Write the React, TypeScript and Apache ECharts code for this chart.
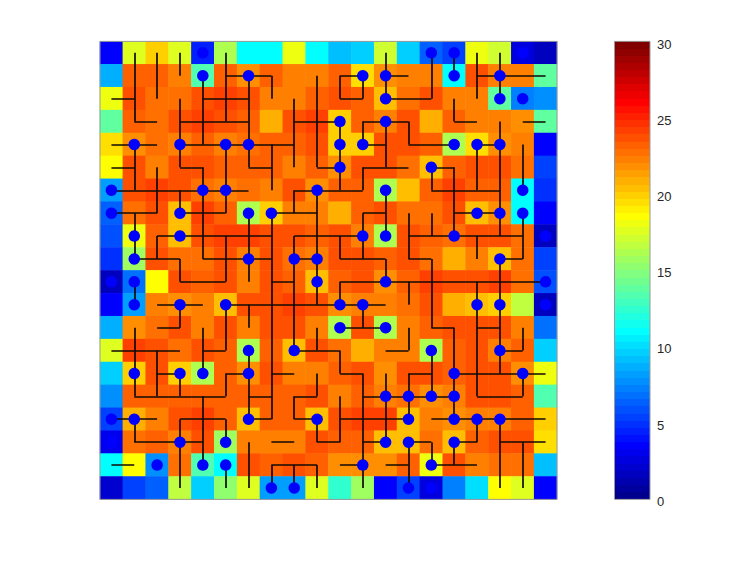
import React, { useEffect, useRef } from "react";
import * as echarts from "echarts";

const heatRows: number[][] = [
  [3.5,17.6,20,17.5,4.5,16.2,11,11,18,10.8,9,9.5,17,9.5,6.2,5.4,18,17.2,2.6,1.6],
  [8.6,23.2,23.2,22.3,13.3,23.2,21.8,23.2,22.3,22.3,23.2,19.5,21.8,22.3,22.3,11,23.6,22.3,22.3,13.8],
  [18,23.6,22.8,22.8,23.6,24.1,23.6,22.3,22.3,23.4,23.6,23.2,20.4,22.8,23.6,22.3,22.3,13.8,7.2,7.6],
  [13.8,23.2,22.8,23.6,24.1,23.6,23.2,20.9,23.6,24.1,20,23.2,22.3,23.6,20.9,23.2,22.3,22.3,21.8,14],
  [19.4,21.8,22.8,22.3,23.2,22.3,22.8,23.4,23.2,23.6,20,20,23.6,23.6,23.2,16.2,19.6,21.8,22.3,3.5],
  [18.6,23.6,22.3,23.6,23.6,23.2,23.2,23.2,22.3,23.2,21.8,23.6,23.6,22.8,20.4,23.2,23.6,23.6,22.8,5.4],
  [8.2,23.6,24.1,23.6,22.8,22.3,22.8,22.3,23.6,21.8,23.2,23.2,16.2,20.4,23.2,24.1,23.2,23.2,11,4.9],
  [6.4,22.8,23.6,20.4,24.1,23.2,16.2,20,22.3,22.3,20.9,23.2,23.6,22.8,22.8,23.6,20.4,21.8,11,3.5],
  [5.8,18,23.2,20.4,23.6,24.1,24.1,23.6,23.6,23.2,23.6,22.3,16.2,23.6,23.2,22.8,23.9,23.6,22.8,1.6],
  [4.9,15.5,23.6,22.8,22.8,23.6,22.3,23.6,22.8,22.3,23.6,23.6,23.2,23.6,22.8,20.9,22.3,20.4,22.8,5.4],
  [1.8,7,18.6,23.6,23.2,23.6,22.3,23.9,23.2,20.4,23.2,23.6,21.8,23.2,24.1,23.6,23.6,24.1,22.8,5.8],
  [3.5,8.2,22.3,21.8,22.3,20.4,23.6,23.9,24.1,23.6,21.8,22.3,22.3,22.8,23.6,20.9,20.4,20,16.5,1.8],
  [8.6,21.8,22.8,23.6,22.3,23.6,22.3,23.6,23.6,22.3,16.2,23.6,16.2,22.3,23.2,23.6,23.6,23.6,22.3,6.8],
  [17.5,24.1,23.6,22.8,23.6,23.2,16.2,23.2,20.4,23.6,22.8,20.9,22.3,22.3,16.2,23.2,23.6,22.3,23.2,9.5],
  [9.5,20,23.6,20,16.2,23.2,21.8,23.6,22.3,22.3,23.2,23.6,21.8,23.6,23.6,23.2,23.9,23.6,21.8,18],
  [7.6,23.2,23.2,23.2,23.2,23.2,23.2,23.2,23.2,23.6,22.3,23.2,22.3,22.8,21.8,22.3,23.6,23.6,23.2,13.3],
  [5.4,20.9,22.3,23.6,24.1,23.2,20.4,23.2,23.2,20.4,23.6,24.1,24.1,20.4,22.3,21.8,22.3,22.3,23.2,20],
  [3,22.8,23.2,22.3,23.9,15.5,22.3,22.3,22.3,23.6,23.2,23.2,20.4,20.4,22.8,20.4,23.2,23.6,23.6,19.5],
  [11,18.6,7.6,22.8,13.3,11,23.6,23.2,23.6,23.2,21.8,21.8,21.8,23.2,18,23.6,22.3,22.8,22.8,9],
  [2.2,5.4,6.4,16.6,9.5,15,17.5,8.2,8.2,17.5,12.4,15.6,3.5,5.2,2.4,7.2,10,18.6,17.5,3.5],
];

const pointCells: number[][] = [
  [4,0],[14,0],[15,0],[18,0],
  [4,1],[6,1],[11,1],[12,1],[15,1],[17,1],
  [12,2],[17,2],[18,2],
  [10,3],[12,3],
  [1,4],[3,4],[5,4],[6,4],[10,4],[11,4],[15,4],[16,4],[17,4],
  [10,5],[14,5],
  [0,6],[4,6],[5,6],[9,6],[12,6],[18,6],
  [0,7],[3,7],[6,7],[7,7],[16,7],[17,7],[18,7],
  [1,8],[3,8],[11,8],[12,8],[15,8],[19,8],
  [1,9],[6,9],[8,9],[9,9],[17,9],
  [0,10],[1,10],[9,10],[12,10],[19,10],
  [1,11],[3,11],[5,11],[10,11],[11,11],[16,11],[17,11],[19,11],
  [10,12],[12,12],
  [6,13],[8,13],[14,13],[17,13],
  [1,14],[3,14],[4,14],[6,14],[15,14],[18,14],
  [12,15],[13,15],[14,15],[15,15],
  [0,16],[1,16],[6,16],[9,16],[13,16],[15,16],[16,16],[17,16],
  [0,17],[3,17],[5,17],[12,17],[13,17],[15,17],
  [2,18],[4,18],[5,18],[11,18],[14,18],
  [7,19],[8,19],[13,19],[14,19],
];

// [row, fromColumn, toColumn]
const horizontalWires: number[][] = [
  [1,5,7],[1,10,11],[1,12,13],[1,16,19],
  [2,0,1],[2,4,6],[2,10,11],[2,12,14],
  [3,1,2],[3,3,6],[3,8,10],[3,11,13],[3,15,16],[3,18,19],
  [4,0,2],[4,3,8],[4,11,12],[4,13,15],[4,16,17],
  [5,0,1],[5,3,4],[5,6,7],[5,9,10],[5,11,13],[5,14,15],
  [6,0,6],[6,8,11],[6,14,17],
  [7,0,2],[7,3,5],[7,7,9],[7,11,12],[7,15,17],
  [8,2,7],[8,8,11],[8,13,18],
  [9,1,3],[9,4,7],[9,8,9],[9,10,12],[9,13,14],[9,17,18],
  [10,3,5],[10,7,8],[10,10,19],
  [11,2,4],[11,5,12],
  [12,2,3],[12,10,12],[12,14,15],[12,16,17],
  [13,0,3],[13,4,5],[13,8,10],[13,12,13],[13,17,18],
  [14,2,3],[14,5,6],[14,7,8],[14,10,11],[14,13,14],[14,15,19],
  [15,1,5],[15,6,7],[15,8,9],[15,11,15],[15,16,18],
  [16,0,2],[16,3,5],[16,6,7],[16,8,9],[16,10,13],[16,14,19],
  [17,1,4],[17,7,8],[17,9,10],[17,11,12],[17,13,14],[17,15,16],[17,17,19],
  [18,0,1],[18,7,9],[18,10,11],[18,12,13],[18,14,16],
];

// [column, fromRow, toRow]
const verticalWires: number[][] = [
  [1,0,3],[1,4,6],[1,7,9],[1,10,11],[1,12,15],[1,16,17],
  [2,0,2],[2,5,7],[2,8,9],[2,13,15],
  [3,0,1],[3,2,5],[3,6,7],[3,9,10],[3,11,12],[3,14,15],[3,16,19],
  [4,1,4],[4,5,9],[4,12,14],[4,15,18],
  [5,0,3],[5,4,7],[5,8,10],[5,11,13],[5,14,15],[5,16,17],[5,18,19],
  [6,1,5],[6,7,10],[6,11,12],[6,13,16],[6,17,19],
  [7,1,2],[7,4,6],[7,7,16],[7,18,19],
  [8,2,5],[8,6,7],[8,8,13],[8,15,16],[8,18,19],
  [9,1,5],[9,6,11],[9,12,13],[9,14,15],[9,16,17],[9,18,19],
  [10,1,2],[10,3,6],[10,8,9],[10,10,11],[10,13,14],[10,15,17],
  [11,1,2],[11,3,4],[11,5,6],[11,7,9],[11,11,12],[11,14,19],
  [12,0,2],[12,3,5],[12,6,8],[12,9,10],[12,14,17],
  [13,3,4],[13,7,9],[13,10,11],[13,12,13],[13,14,16],[13,17,19],
  [14,0,2],[14,5,6],[14,7,8],[14,9,12],[14,13,15],[14,17,18],
  [15,0,1],[15,2,3],[15,5,8],[15,12,16],[15,17,18],
  [16,0,2],[16,4,6],[16,8,9],[16,10,15],[16,16,17],
  [17,0,2],[17,3,8],[17,9,14],[17,16,19],
  [18,4,6],[18,7,9],[18,12,13],[18,14,15],[18,17,19],
];

const colorbarTicks = [0, 5, 10, 15, 20, 25, 30];
const valueMax = 30;
const levelCount = 64;

function jet(i: number): string {
  const t = (i + 1) / levelCount;
  const ramp = (c: number) => Math.max(0, Math.min(1, 1.5 - Math.abs(4 * t - c)));
  const h = (v: number) => Math.round(v * 255);
  return `rgb(${h(ramp(3))},${h(ramp(2))},${h(ramp(1))})`;
}

const levels = Array.from({ length: levelCount }, (_, i) => i);
const cellIndex = Array.from({ length: 20 }, (_, i) => String(i));

export default function App() {
  const ref = useRef<HTMLDivElement>(null);
  useEffect(() => {
    document.body.style.margin = "0";
    const chart = echarts.init(ref.current!, null, { renderer: "svg" });
    const heatData: number[][] = [];
    heatRows.forEach((row, r) => row.forEach((v, c) => heatData.push([c, r, v])));
    const wires = [
      ...horizontalWires.map(([r, a, b]) => ({ coords: [[a, r], [b, r]] })),
      ...verticalWires.map(([c, a, b]) => ({ coords: [[c, a], [c, b]] })),
    ];
    const frame = "#999999";
    const hiddenAxis = { axisLabel: { show: false }, axisTick: { show: false }, axisLine: { show: false }, splitLine: { show: false } };
    const option: any = {
      animation: false,
      grid: [
        { left: 100, top: 41.4, width: 457, height: 458, show: false },
        { left: 614.5, top: 41.4, width: 35.5, height: 458, show: false },
        { left: 614.5, top: 44.2, width: 35.5, height: 457, show: false },
      ],
      xAxis: [
        { gridIndex: 0, type: "category", data: cellIndex, ...hiddenAxis },
        { gridIndex: 1, type: "value", min: 0, max: 1, ...hiddenAxis },
        { gridIndex: 2, type: "value", min: 0, max: 1, ...hiddenAxis },
      ],
      yAxis: [
        { gridIndex: 0, type: "category", inverse: true, data: cellIndex, ...hiddenAxis },
        { gridIndex: 1, type: "value", min: 0, max: valueMax, interval: 5, ...hiddenAxis },
        {
          gridIndex: 2, type: "value", position: "right", min: 0, max: valueMax, interval: 5,
          axisLabel: { show: true, color: "#262626", fontFamily: "Liberation Sans", fontSize: 13, margin: 7, customValues: colorbarTicks },
          axisTick: { show: false }, axisLine: { show: false }, splitLine: { show: false },
        },
      ],
      visualMap: {
        show: false, type: "piecewise", seriesIndex: 0, dimension: 2,
        pieces: levels.map((i) => ({ gte: (i * valueMax) / levelCount, lt: ((i + 1) * valueMax) / levelCount, color: jet(i) })),
      },
      series: [
        { type: "heatmap", xAxisIndex: 0, yAxisIndex: 0, data: heatData, silent: true, z: 1 },
        {
          type: "lines", coordinateSystem: "cartesian2d", xAxisIndex: 0, yAxisIndex: 0, data: wires, silent: true, z: 2,
          lineStyle: { color: "#100a04", width: 1.7, opacity: 1, curveness: 0 },
        },
        {
          type: "scatter", xAxisIndex: 0, yAxisIndex: 0, data: pointCells, symbol: "circle", symbolSize: 11.5, silent: true, z: 3,
          itemStyle: { color: "#0000ff", opacity: 1 },
        },
        {
          type: "custom", xAxisIndex: 1, yAxisIndex: 1, silent: true, z: 1, clip: false,
          data: levels.map((i) => [i]),
          encode: { x: [], y: 0 },
          renderItem: (_p: any, api: any) => {
            const i = api.value(0);
            const a = api.coord([0, (i * valueMax) / levelCount]);
            const b = api.coord([1, ((i + 1) * valueMax) / levelCount]);
            const y1 = Math.round(b[1]);
            const y2 = Math.round(a[1]);
            return { type: "rect", shape: { x: a[0], y: y1, width: b[0] - a[0], height: y2 - y1 }, style: { fill: jet(i), stroke: null } };
          },
        },
      ],
      graphic: [
        { type: "rect", shape: { x: 100, y: 41.4, width: 457, height: 458 }, style: { fill: "none", stroke: frame, lineWidth: 1 }, z: 10, silent: true },
        { type: "rect", shape: { x: 614.5, y: 41.4, width: 35.5, height: 458 }, style: { fill: "none", stroke: frame, lineWidth: 1 }, z: 10, silent: true },
      ],
    };
    chart.setOption(option);
    return () => chart.dispose();
  }, []);
  return <div ref={ref} style={{ width: 747, height: 561, background: "#fff" }} />;
}
